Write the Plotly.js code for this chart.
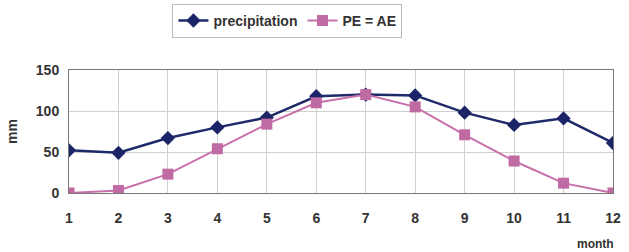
<!DOCTYPE html>
<html><head><meta charset="utf-8">
<script src="https://cdn.plot.ly/plotly-3.0.1.min.js"></script>
<style>html,body{margin:0;padding:0;background:#fff}</style>
</head><body>
<div id="chart" style="width:629px;height:252px"></div>
<script>
var months = [1,2,3,4,5,6,7,8,9,10,11,12];
var precipitation = [52,49,67,80,92,118,120,119,98,83,91,61];
var peAe = [0,3,23,54,84,110,120,105,71,39,12,0];
var yTicks = [0,50,100,150];

var fam = '"Liberation Sans", Arial, sans-serif';
var fontBase = {family:fam, size:14, color:'#333', weight:'bold'};

var data = [
  {x:months, y:precipitation, name:'precipitation', mode:'lines+markers', type:'scatter',
   line:{color:'#1e2a6a', width:2.5}, marker:{symbol:'diamond', size:11, color:'#1a2466'}},
  {x:months, y:peAe, name:'PE = AE', mode:'lines+markers', type:'scatter',
   line:{color:'#c870aa', width:2}, marker:{symbol:'square', size:11, color:'#c06aa4'}}
];

var layout = {
  width:629, height:252,
  margin:{l:69, r:16, t:70, b:59},
  paper_bgcolor:'#fff', plot_bgcolor:'#fff',
  font:fontBase,
  showlegend:true,
  legend:{orientation:'h', xref:'container', yref:'container', x:0.457, xanchor:'center', y:0.917, yanchor:'middle',
          bordercolor:'#bbb', borderwidth:1, font:{family:fam, size:14, color:'#333', weight:'bold'}, bgcolor:'#fff',
          itemwidth:30, tracegroupgap:0},
  xaxis:{range:[1,12], tickvals:months, ticks:'', showgrid:true, gridcolor:'#d0d0d0',
         zeroline:false, showline:true, linecolor:'#777', mirror:true, linewidth:1,
         tickfont:fontBase, ticklabelstandoff:12, fixedrange:true},
  yaxis:{range:[0,150], tickvals:yTicks, ticks:'', showgrid:true, gridcolor:'#d0d0d0',
         zeroline:false, showline:true, linecolor:'#777', mirror:true, linewidth:1,
         tickfont:fontBase, ticklabelstandoff:6, title:{text:'mm', font:fontBase, standoff:14}, fixedrange:true},
  annotations:[{text:'month', xref:'paper', yref:'paper', x:1.005, y:-0.415, xanchor:'right',
                yanchor:'middle', showarrow:false, font:{family:fam, size:12, color:'#333', weight:'bold'}}]
};
Plotly.newPlot('chart', data, layout, {displayModeBar:false, staticPlot:true});
</script>
</body></html>
